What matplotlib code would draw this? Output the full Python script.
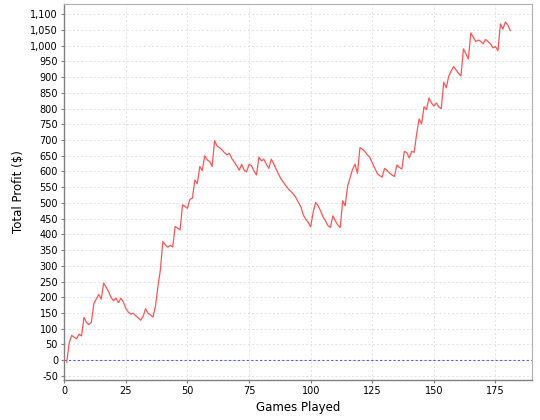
import matplotlib
matplotlib.use("Agg")
import matplotlib.pyplot as plt
from matplotlib.ticker import MultipleLocator, FuncFormatter

# cumulative profit after each game
games = list(range(1, 182))
profit = [
    -6, 54, 79, 73, 68, 83, 77, 136, 120, 113,
    121, 179, 195, 209, 194, 245, 232, 218, 199, 189,
    197, 183, 197, 185, 164, 153, 147, 149, 141, 135,
    127, 139, 164, 149, 144, 137, 171, 234, 287, 377,
    367, 359, 365, 360, 425, 420, 414, 494, 489, 483,
    512, 515, 573, 561, 616, 603, 650, 637, 632, 616,
    698, 681, 676, 669, 660, 653, 658, 641, 630, 618,
    604, 623, 604, 599, 623, 618, 602, 589, 646, 634,
    639, 623, 610, 639, 625, 607, 591, 576, 565, 554,
    544, 536, 528, 517, 502, 488, 462, 448, 438, 424,
    470, 502, 491, 475, 456, 443, 428, 422, 459, 443,
    430, 422, 507, 491, 554, 581, 607, 623, 594, 676,
    671, 663, 653, 645, 627, 611, 594, 587, 582, 610,
    603, 595, 589, 584, 621, 613, 608, 664, 660, 643,
    664, 661, 719, 767, 751, 806, 797, 834, 818, 808,
    818, 805, 800, 884, 866, 902, 919, 934, 923, 912,
    904, 990, 974, 958, 1041, 1027, 1013, 1018, 1014, 1006,
    1020, 1013, 1006, 993, 997, 984, 1069, 1053, 1075, 1066,
    1048,
]

fig = plt.figure(figsize=(5.4, 4.2), dpi=100)
ax = fig.add_axes([0.119, 0.096, 0.867, 0.894])

ax.grid(True, color="#dedede", linestyle=(0, (2.5, 2.5)), linewidth=0.6)
ax.set_axisbelow(True)
ax.axhline(0, color="#5a5aff", linestyle=(0, (2, 2)), linewidth=0.8)
ax.plot(games, profit, color="#ff5555", linewidth=0.9)

ax.set_xlim(0, 190)
ax.set_ylim(-62, 1132)
ax.xaxis.set_major_locator(MultipleLocator(25))
ax.yaxis.set_major_locator(MultipleLocator(50))
ax.yaxis.set_major_formatter(FuncFormatter(lambda v, p: f"{int(v):,}"))

for s in ["top", "right"]:
    ax.spines[s].set_color("#b0b0b0")
for s in ["left", "bottom"]:
    ax.spines[s].set_color("#808080")
    ax.spines[s].set_linewidth(1.0)
ax.tick_params(labelsize=7, color="#808080", length=2.5, pad=2)

ax.set_xlabel("Games Played", fontsize=8.5, labelpad=4)
ax.set_ylabel("Total Profit ($)", fontsize=8.5, labelpad=4)

fig.savefig("out.png", dpi=100)
